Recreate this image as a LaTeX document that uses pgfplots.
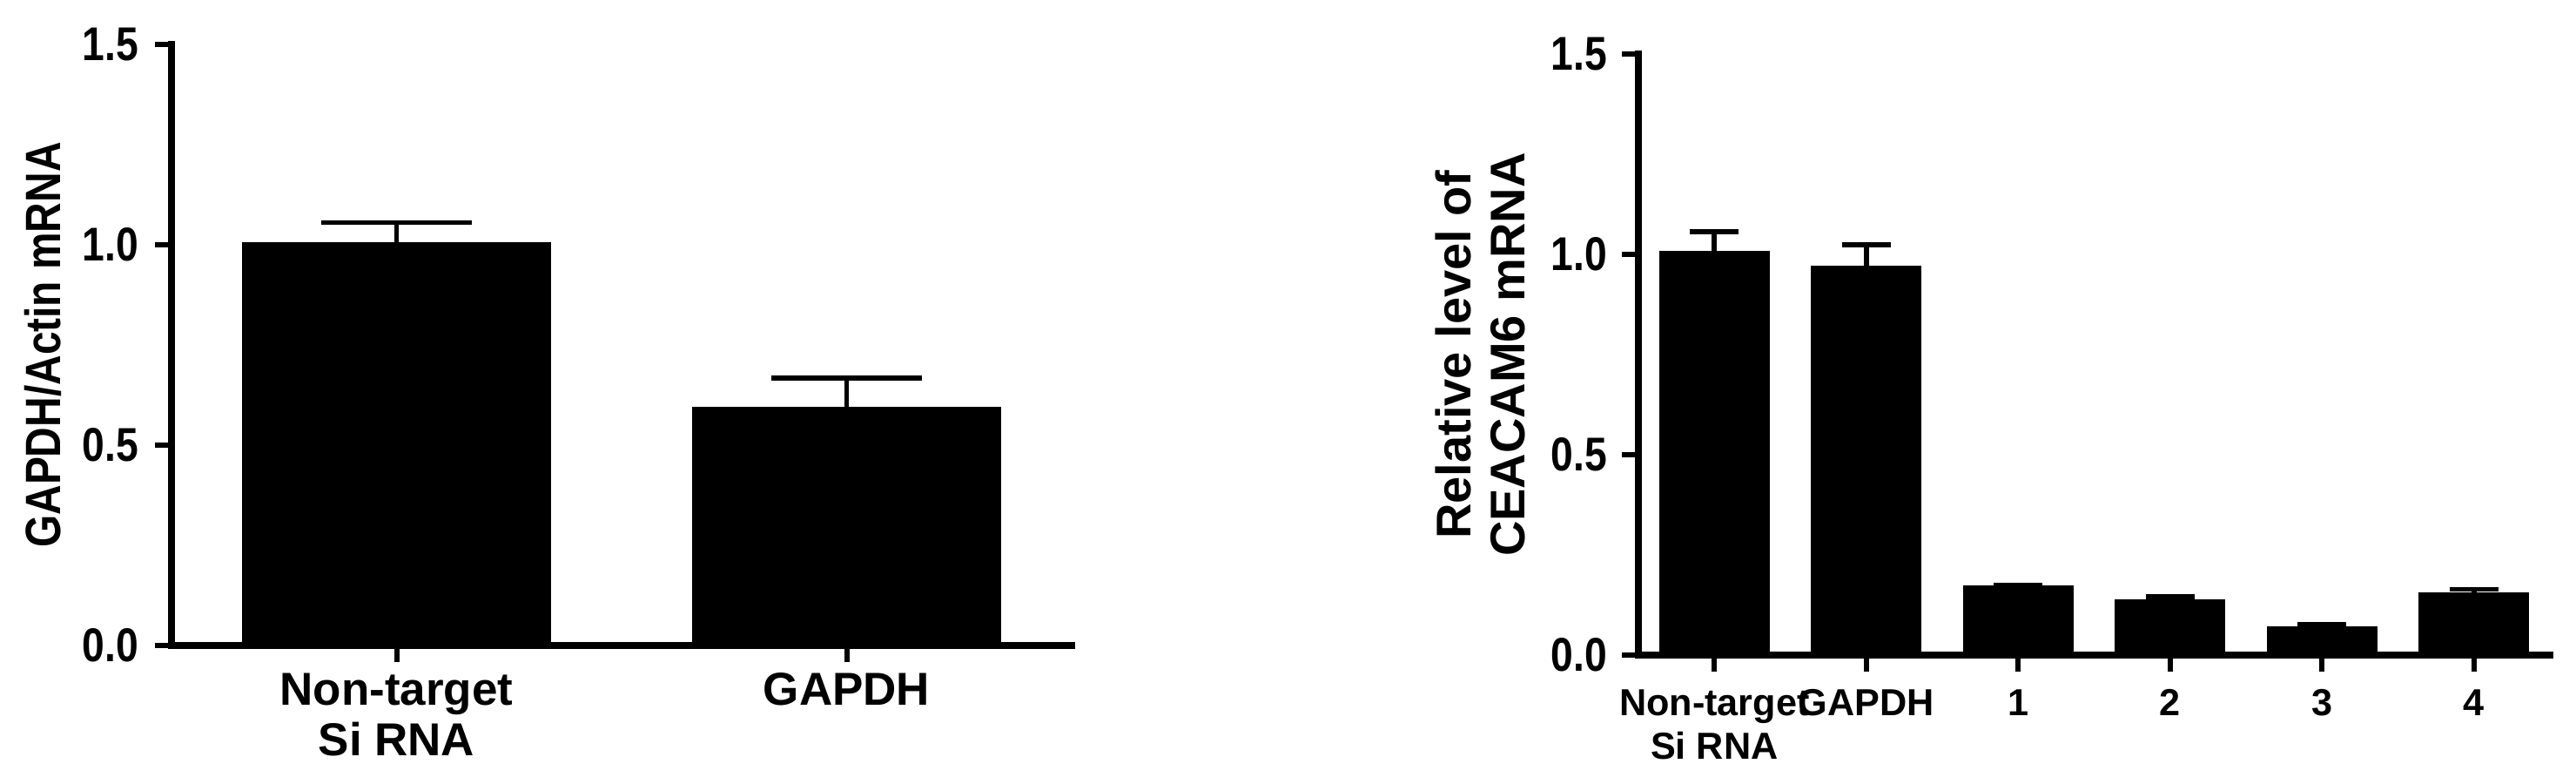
\documentclass[border=0pt]{standalone}
\usepackage{graphicx}
\usepackage{fontspec}
\setmainfont{Liberation Sans}
\usepackage{pgfplots}
\pgfplotsset{compat=1.18}
\newcommand\nar[1]{\scalebox{0.85}[1]{#1}}
\pgfplotsset{
  gp/.style={
    scale only axis,
    axis x line*=bottom,
    axis y line*=left,
    axis line style={line width=2.2pt, line cap=rect},
    tick align=outside,
    major tick length=4.75pt,
    every tick/.style={line width=1.5pt, black},
    ymin=0, ymax=1.5,
    ytick={0,0.5,1,1.5},
    yticklabels={\nar{0.0},\nar{0.5},\nar{1.0},\nar{1.5}},
    yticklabel style={font=\fontsize{13.6}{15}\selectfont\bfseries, inner sep=0pt},
    minor tick num=0,
    /pgf/number format/assume math mode=true,
    clip=false,
  },
  bstyle/.style 2 args={ybar, bar width=#1, fill=black, draw=black,
    error bars/.cd, y dir=plus, y explicit,
    error bar style={line width=1.4pt, black},
    error mark options={rotate=90, mark size=#2, line width=1.4pt, black},
  },
}
\begin{document}
\begin{tikzpicture}
\useasboundingbox (0,0) rectangle (739.75pt,225pt);
% Left panel
\begin{axis}[gp,
  at={(49.25pt,39.75pt)}, anchor=south west,
  width=258.5pt, height=172.5pt,
  xmin=-0.5, xmax=1.5,
  xtick={0,1},
  xticklabels={{Non-target\\Si RNA},{GAPDH}},
  xticklabel style={font=\fontsize{13.25}{14.5}\selectfont\bfseries, align=center, inner sep=0pt},
  xticklabel shift=3pt,
  yticklabel shift=4.5pt,
  ylabel={\scalebox{0.84}[1]{GAPDH/Actin mRNA}},
  ylabel style={font=\fontsize{14.25}{15.5}\selectfont\bfseries, at={(axis description cs:-0.1644,0.5)}, anchor=north, inner sep=0pt},
]
\addplot[bstyle={0.683}{21.5pt}]
  coordinates {(0,1.005) +- (0,0.050) (1,0.593) +- (0,0.075)};
\end{axis}
% Right panel
\begin{axis}[gp,
  at={(470.5pt,37pt)}, anchor=south west,
  width=261.75pt, height=172.5pt,
  xmin=-0.5, xmax=5.5,
  xtick={0,1,2,3,4,5},
  xticklabels={{Non-target\\Si RNA},{GAPDH},{1},{2},{3},{4}},
  xticklabel style={font=\fontsize{10.8}{12.5}\selectfont\bfseries, align=center, inner sep=0pt},
  xticklabel shift=5pt,
  yticklabel shift=4pt,
  ylabel={Relative level of\\CEACAM6 mRNA},
  ylabel style={font=\fontsize{14}{15.5}\selectfont\bfseries, align=center, at={(axis description cs:-0.2235,0.5)}, anchor=north, inner sep=0pt},
]
\addplot[bstyle={0.72}{7pt}]
  coordinates {(0,1.007) +- (0,0.050) (1,0.970) +- (0,0.054) (2,0.172) +- (0,0.002)
               (3,0.137) +- (0,0.009) (4,0.071) +- (0,0.006) (5,0.155) +- (0,0.009)};
\end{axis}
\end{tikzpicture}
\end{document}
